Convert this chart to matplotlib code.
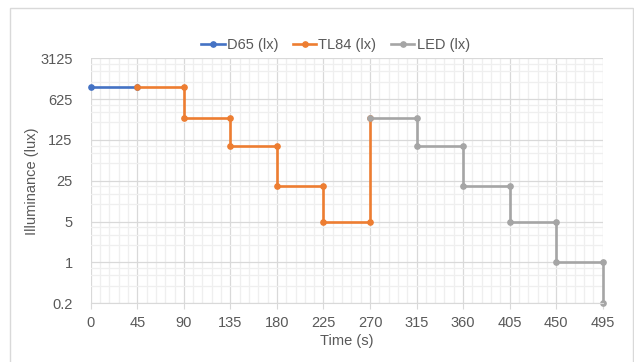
import numpy as np
import matplotlib.pyplot as plt
from matplotlib.ticker import FixedLocator, LogLocator, FuncFormatter, MultipleLocator
from matplotlib.patches import Rectangle

plt.rcParams['font.family'] = ['Liberation Sans', 'DejaVu Sans']

# step profiles of illuminance vs time, one per light source
d65_t = [0, 45]
d65_lux = [1000, 1000]

tl84_t = [45, 90, 90, 135, 135, 180, 180, 225, 225, 270, 270]
tl84_lux = [1000, 1000, 300, 300, 100, 100, 20, 20, 5, 5, 300]

led_t = [270, 315, 315, 360, 360, 405, 405, 450, 450, 495, 495]
led_lux = [300, 300, 100, 100, 20, 20, 5, 5, 1, 1, 0.2]

y_ticks = [0.2, 1, 5, 25, 125, 625, 3125]
x_ticks = list(range(0, 496, 45))

txt = '#595959'
fs = 10.5
fig = plt.figure(figsize=(6.34, 3.62), dpi=100)
ax = fig.add_axes([0.1431, 0.1622, 0.8076, 0.6768])

# chart frame
fig.patches.append(Rectangle((9.5 / 634, -0.1), (633 - 9.5) / 634, 1.1 - 8.5 / 362,
                             transform=fig.transFigure, fill=False,
                             edgecolor='#d9d9d9', lw=1.0))

style = dict(lw=1.9, marker='o', markersize=3.8, solid_joinstyle='miter', clip_on=False)
ax.plot(d65_t, d65_lux, color='#4472C4', label='D65 (lx)', **style)
ax.plot(tl84_t, tl84_lux, color='#ED7D31', label='TL84 (lx)', **style)
ax.plot(led_t, led_lux, color='#A5A5A5', label='LED (lx)', **style)

ax.set_yscale('log', base=5)
ax.set_ylim(0.2, 3125)
ax.set_xlim(0, 495)
ax.yaxis.set_major_locator(FixedLocator(y_ticks))
ax.yaxis.set_major_formatter(FuncFormatter(lambda v, p: '%g' % v))
ax.yaxis.set_minor_locator(LogLocator(base=5, subs=[2, 3, 4]))
ax.yaxis.set_minor_formatter(FuncFormatter(lambda v, p: ''))
ax.set_xticks(x_ticks)
ax.xaxis.set_minor_locator(MultipleLocator(9))

ax.grid(which='major', color='#d9d9d9', lw=0.9)
ax.grid(which='minor', color='#efefef', lw=0.9)
ax.set_axisbelow(True)
for s in ax.spines.values():
    s.set_visible(False)
ax.spines['bottom'].set_visible(True)
ax.spines['bottom'].set_color('#d9d9d9')

ax.tick_params(axis='y', which='both', length=0, pad=13, labelsize=fs, labelcolor=txt)
ax.tick_params(axis='x', which='major', length=4, color='#d9d9d9', pad=5,
               labelsize=fs, labelcolor=txt)
ax.tick_params(axis='x', which='minor', length=0)

ax.set_xlabel('Time (s)', fontsize=fs, color=txt, labelpad=3)
ax.set_ylabel('Illuminance (lux)', fontsize=fs, color=txt, labelpad=0.5)

ax.legend(loc='lower center', bbox_to_anchor=(0.478, 1.0), ncol=3, frameon=False,
          fontsize=fs, labelcolor=txt, handlelength=1.6, handletextpad=0.15,
          columnspacing=1.0, borderaxespad=0.0)

fig.savefig('out.png', dpi=100)
